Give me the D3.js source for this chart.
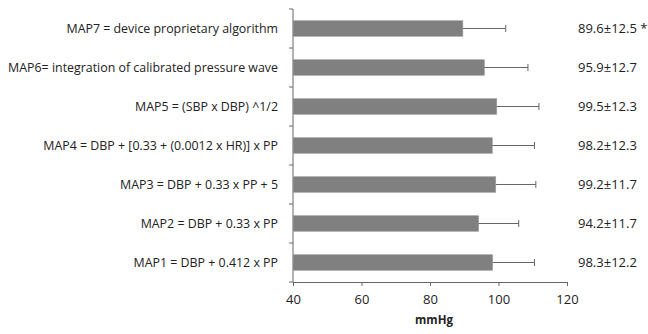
<!DOCTYPE html>
<html>
<head>
<meta charset="utf-8">
<script src="https://cdn.jsdelivr.net/npm/d3@7"></script>
<style>
  body { margin: 0; background: #fff; }
  text { font-family: "Open Sans", "Noto Sans", sans-serif; fill: #222; }
</style>
</head>
<body>
<div id="canvas"></div>
<script>
// categories bottom to top as drawn
const labels = [
  'MAP1 = DBP + 0.412 x PP',
  'MAP2 = DBP + 0.33 x PP',
  'MAP3 = DBP + 0.33 x PP + 5',
  'MAP4 = DBP + [0.33 + (0.0012 x HR)] x PP',
  'MAP5 = (SBP x DBP) ^1/2',
  'MAP6= integration of calibrated pressure wave',
  'MAP7 = device proprietary algorithm'
]
const means = [98.3, 94.2, 99.2, 98.2, 99.5, 95.9, 89.6]
const sds = [12.2, 11.7, 11.7, 12.3, 12.3, 12.7, 12.5]
const notes = ['', '', '', '', '', '', ' *']
const xTicks = [40, 60, 80, 100, 120]

const width = 648
const height = 334
const plotLeft = 293
const plotRight = 567
const plotTop = 9
const plotBottom = 282

let svg = d3.select('#canvas').append('svg')
  .attr('width', width)
  .attr('height', height)

const x = d3.scaleLinear().domain([40, 120]).range([plotLeft, plotRight])
const y = d3.scaleBand().domain(labels.slice().reverse()).range([plotTop, plotBottom]).paddingInner(0.6).paddingOuter(0.3)

// y axis line and ticks at band boundaries
svg.append('line')
  .attr('x1', plotLeft).attr('x2', plotLeft).attr('y1', plotTop).attr('y2', plotBottom)
  .attr('stroke', '#666')
const step = (plotBottom - plotTop) / labels.length
for (let i = 0; i <= labels.length; i++) {
  svg.append('line')
    .attr('x1', plotLeft - 4).attr('x2', plotLeft)
    .attr('y1', plotTop + i * step).attr('y2', plotTop + i * step)
    .attr('stroke', '#666')
}

// x axis
const xAxis = svg.append('g')
  .attr('transform', `translate(0,${plotBottom})`)
  .call(d3.axisBottom(x).tickValues(xTicks).tickSize(4).tickPadding(9))
xAxis.select('.domain').attr('stroke', '#666')
xAxis.selectAll('.tick line').attr('stroke', '#666')
xAxis.selectAll('text').attr('font-size', 13).attr('fill', '#222')
  .style('font-family', '"Open Sans", "Noto Sans", sans-serif')

// bars
labels.forEach((lab, i) => {
  const yc = y(lab) + y.bandwidth() / 2
  svg.append('rect')
    .attr('x', x(40))
    .attr('y', y(lab))
    .attr('width', x(means[i]) - x(40))
    .attr('height', y.bandwidth())
    .attr('fill', '#808080')
    .attr('stroke', '#a0a0a0')
    .attr('stroke-width', 0.6)

  // error bar (upper side only)
  const xe = x(means[i] + sds[i])
  svg.append('line')
    .attr('x1', x(means[i])).attr('x2', xe)
    .attr('y1', yc).attr('y2', yc)
    .attr('stroke', '#666')
  svg.append('line')
    .attr('x1', xe).attr('x2', xe)
    .attr('y1', yc - 3.5).attr('y2', yc + 3.5)
    .attr('stroke', '#666')

  // category label
  svg.append('text')
    .text(lab)
    .attr('x', 278)
    .attr('y', yc)
    .attr('dy', '0.35em')
    .attr('text-anchor', 'end')
    .attr('font-size', 12.4)

  // value label
  svg.append('text')
    .text(means[i].toFixed(1) + '±' + sds[i].toFixed(1) + notes[i])
    .attr('x', 578)
    .attr('y', yc)
    .attr('dy', '0.35em')
    .attr('font-size', 13)
})

svg.append('text')
  .text('mmHg')
  .attr('x', 434)
  .attr('y', 324)
  .attr('text-anchor', 'middle')
  .attr('font-size', 11.5)
  .attr('font-weight', 'bold')
</script>
</body>
</html>
